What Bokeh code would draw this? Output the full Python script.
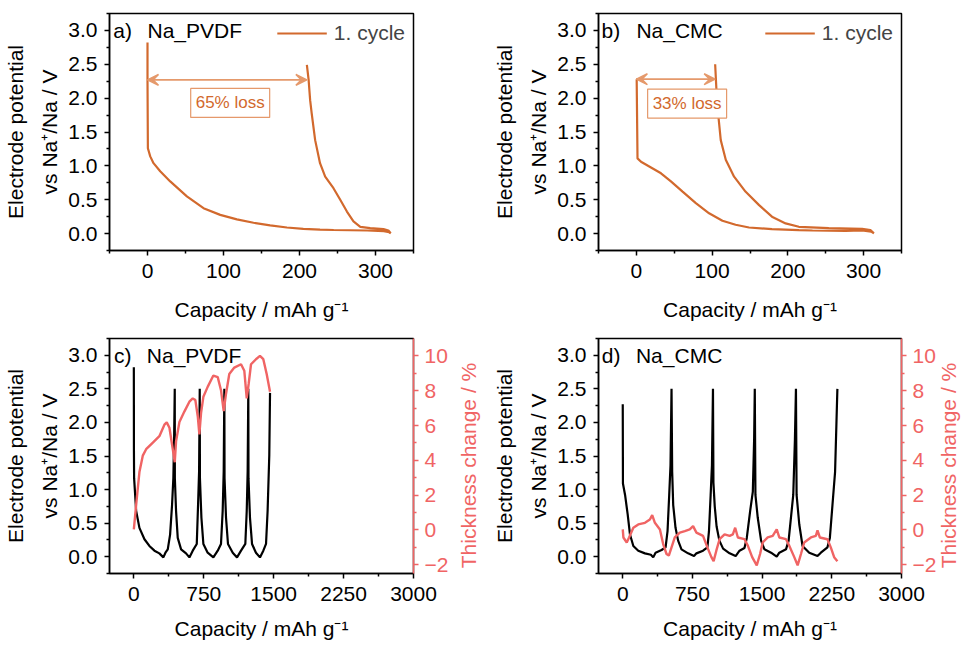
import math
from bokeh.plotting import figure
from bokeh.layouts import gridplot
from bokeh.models import (Range1d, LinearAxis, FixedTicker, Label, Arrow, VeeHead,
                          Legend, LegendItem, PrintfTickFormatter)
from bokeh.embed import file_html
from bokeh.resources import INLINE

# ---------------- data ----------------
# a) Na_PVDF, 1st cycle
pvdf_c1_cap = [0, 0, 0.5, 3.6, 7.9, 16.7, 29.9, 51.8, 73.7, 95.7, 117.6, 139.5, 161.4, 183.4, 205, 227, 245, 289, 311, 318, 320,
               317, 310.5, 293, 280, 271, 262.4, 253.6, 244.7, 233.8, 227, 220.6, 216, 214, 212, 209.7]
pvdf_c1_volt = [2.82, 2.27, 1.26, 1.14, 1.04, 0.92, 0.77, 0.55, 0.375, 0.276, 0.21, 0.16, 0.12, 0.09, 0.07, 0.058, 0.053, 0.045, 0.035, 0.02, 0.005,
                0.045, 0.065, 0.08, 0.10, 0.18, 0.325, 0.50, 0.67, 0.84, 1.04, 1.38, 1.78, 1.97, 2.27, 2.49]

# b) Na_CMC, 1st cycle
cmc_c1_cap = [0, 0.4, 1.5, 6.1, 17, 32.5, 45.6, 61, 78.5, 96, 113.6, 131, 148.7, 179, 214.5, 232.5, 276, 298, 310, 313.6,
              309, 298, 254, 214.5, 197, 179, 162, 144, 129, 118, 111.4, 108.3, 105.7, 104]
cmc_c1_volt = [2.28, 2.28, 1.11, 1.06, 0.99, 0.89, 0.77, 0.62, 0.45, 0.30, 0.19, 0.13, 0.09, 0.065, 0.05, 0.045, 0.04, 0.045, 0.03, 0.005,
               0.05, 0.07, 0.08, 0.10, 0.15, 0.25, 0.42, 0.62, 0.84, 1.09, 1.38, 1.73, 2.12, 2.5]

loss_labels = ["65% loss", "33% loss"]
loss_arrow_volt = [2.27, 2.28]
loss_label_pos = [(108.8, 1.93), (67, 1.92)]

# c) Na_PVDF, cycling
pvdf_cap = [0, 1, 3, 25, 60, 114, 167, 221, 274, 317,
            339, 364, 389, 410, 424, 432, 439,
            440, 453, 471, 507, 560, 596,
            632, 675, 689, 700, 707,
            709, 725, 746, 792, 853,
            900, 935, 953, 964, 971,
            973, 989, 1010, 1061, 1107,
            1150, 1196, 1211, 1221, 1228,
            1230, 1246, 1268, 1310, 1353,
            1389, 1418, 1435, 1453, 1461]
pvdf_volt = [2.82, 1.6, 1.17, 0.68, 0.43, 0.26, 0.16, 0.09, 0.05, -0.01,
             0.06, 0.11, 0.33, 0.77, 1.17, 1.75, 2.5,
             1.17, 0.68, 0.28, 0.11, 0.05, -0.01,
             0.09, 0.19, 0.77, 1.27, 2.5,
             1.17, 0.58, 0.19, 0.06, -0.01,
             0.09, 0.19, 0.68, 1.27, 2.5,
             1.17, 0.58, 0.19, 0.06, -0.01,
             0.09, 0.19, 0.68, 1.27, 2.5,
             1.17, 0.58, 0.19, 0.06, -0.01,
             0.09, 0.19, 0.68, 1.51, 2.44]
pvdf_thick_cap = [0, 25, 60, 96, 132, 204, 274, 328, 353, 382, 418, 439,
                  453, 489, 542, 596, 632, 660, 686, 703,
                  721, 746, 792, 853, 900, 935, 964,
                  989, 1024, 1078, 1150, 1185, 1211,
                  1232, 1257, 1310, 1353, 1389, 1425, 1461]
pvdf_thick = [0.03, 1.45, 3.33, 4.27, 4.64, 5.02, 5.39, 6.05, 6.18, 5.87, 4.64, 3.89,
              5.09, 6.2, 6.8, 7.37, 7.56, 7.46, 6.52, 5.49,
              6.71, 7.65, 8.22, 8.87, 8.78, 8.03, 6.83,
              7.83, 8.96, 9.33, 9.52, 9.15, 7.56,
              8.4, 9.52, 9.81, 10.0, 9.81, 8.96, 7.94]

# d) Na_CMC, cycling
cmc_cap = [0, 2, 25, 53, 78, 114, 167, 239, 303, 328,
           353, 418, 461, 482, 500, 514, 525,
           532, 543, 568, 596, 632, 703, 767,
           793, 864, 911, 928, 946, 960, 971,
           976, 990, 1010, 1040, 1080, 1150, 1215,
           1257, 1310, 1335, 1371, 1400, 1414, 1421,
           1428, 1453, 1489, 1525, 1596, 1657,
           1685, 1757, 1785, 1810, 1835, 1853, 1864,
           1871, 1900, 1935, 2007, 2096,
           2132, 2203, 2229, 2257, 2285, 2300, 2310]
cmc_volt = [2.27, 1.09, 0.92, 0.63, 0.33, 0.16, 0.09, 0.05, 0.03, -0.01,
            0.06, 0.10, 0.14, 0.38, 0.92, 1.36, 2.5,
            1.26, 0.77, 0.43, 0.24, 0.11, 0.05, 0.01,
            0.05, 0.09, 0.14, 0.38, 0.92, 1.36, 2.5,
            1.1, 0.75, 0.45, 0.24, 0.12, 0.05, 0.01,
            0.09, 0.13, 0.28, 0.68, 0.97, 1.75, 2.5,
            0.92, 0.58, 0.24, 0.11, 0.06, 0.0,
            0.06, 0.11, 0.24, 0.58, 0.92, 1.75, 2.5,
            0.92, 0.48, 0.16, 0.06, 0.01,
            0.06, 0.14, 0.28, 0.77, 1.26, 2.0, 2.5]
cmc_thick_cap = [0, 7, 43, 68, 114, 167, 239, 292, 317, 346, 400, 435, 471, 496,
                 525, 560, 614, 668, 721, 757, 793, 864, 911, 954, 978,
                 1007, 1042, 1096, 1150, 1185, 1210, 1239, 1310, 1346, 1393, 1442,
                 1478, 1506, 1560, 1614, 1657, 1685, 1757, 1792, 1846, 1882,
                 1918, 1953, 2025, 2078, 2096, 2121, 2203, 2239, 2275, 2310]
cmc_thick = [0.03, -0.43, -0.72, -0.43, 0.13, 0.32, 0.41, 0.6, 0.85, 0.41, 0.03, -0.81, -1.38, -1.47,
             -1.0, -0.43, -0.15, -0.06, 0.03, 0.22, -0.15, -0.34, -1.0, -1.56, -1.79,
             -1.19, -0.53, -0.25, -0.34, -0.25, 0.13, -0.43, -0.53, -0.9, -1.56, -2.03,
             -1.38, -0.72, -0.43, -0.34, 0.03, -0.43, -0.53, -0.9, -1.56, -2.03,
             -1.38, -0.72, -0.43, -0.34, -0.02, -0.43, -0.53, -1.0, -1.56, -1.79]

# ticks
ab_x_ticks = [0, 100, 200, 300]
ab_x_minor = [-50, 50, 150, 250, 350]
cd_x_ticks = [0, 750, 1500, 2250, 3000]
cd_x_minor = [375, 1125, 1875, 2625]
volt_ticks = [0, 0.5, 1.0, 1.5, 2.0, 2.5, 3.0]
volt_minor = [-0.25, 0.25, 0.75, 1.25, 1.75, 2.25, 2.75, 3.25]
thick_ticks = [-2, 0, 2, 4, 6, 8, 10]
thick_minor = [-1, 1, 3, 5, 7, 9]

# ---------------- styling ----------------
FONT = "Liberation Sans"
ORANGE = "#D2692D"
ORANGE_LIGHT = "#E5996B"
RED = "#F06464"
FS = "21px"
YLABEL = "Electrode potential\nvs Na\u207a/Na / V"
XLABEL = "Capacity / mAh g\u207b\u00b9"
THICK_LABEL = "Thickness change / %"


def style_axis(ax, color="black"):
    ax.axis_line_width = 1.5
    ax.axis_line_color = color
    ax.major_tick_line_color = color
    ax.minor_tick_line_color = color
    ax.major_tick_line_width = 1.5
    ax.minor_tick_line_width = 1.5
    ax.major_tick_in = 0
    ax.major_tick_out = 5
    ax.minor_tick_in = 0
    ax.minor_tick_out = 3
    ax.major_label_text_font = FONT
    ax.major_label_text_font_size = FS
    ax.major_label_text_color = color
    ax.axis_label_text_font = FONT
    ax.axis_label_text_font_size = FS
    ax.axis_label_text_font_style = "normal"
    ax.axis_label_text_color = color
    ax.major_label_standoff = 6


def make_fig(xr, xt, xm, w, h, border_left, border_right, border_top, border_bottom, xstand):
    p = figure(width=w, height=h, x_range=Range1d(*xr), y_range=Range1d(-0.25, 3.25),
               output_backend="svg", toolbar_location=None,
               min_border_left=border_left, min_border_right=border_right,
               min_border_top=border_top, min_border_bottom=border_bottom)
    p.xgrid.visible = False
    p.ygrid.visible = False
    p.outline_line_color = "black"
    p.outline_line_width = 1.5
    p.outline_line_alpha = 1.0
    p.background_fill_color = "white"
    p.border_fill_color = "white"
    p.xaxis.ticker = FixedTicker(ticks=xt, minor_ticks=xm)
    p.yaxis.ticker = FixedTicker(ticks=volt_ticks, minor_ticks=volt_minor)
    p.yaxis.formatter = PrintfTickFormatter(format="%.1f")
    p.xaxis.axis_label = XLABEL
    p.yaxis.axis_label = YLABEL
    for ax in p.xaxis + p.yaxis:
        style_axis(ax)
    p.xaxis.major_label_standoff = 8
    p.yaxis.major_label_standoff = 7
    p.yaxis.axis_label_text_line_height = 1.5
    p.xaxis.axis_label_standoff = xstand
    p.yaxis.axis_label_standoff = 4
    return p


def add_thick_axis(p, label_x):
    p.extra_y_ranges = {"thick": Range1d(-2.5, 11)}
    rax = LinearAxis(y_range_name="thick",
                     ticker=FixedTicker(ticks=thick_ticks, minor_ticks=thick_minor))
    style_axis(rax, RED)
    p.add_layout(rax, "right")
    lbl = Label(x=label_x, y=108, x_units="screen", y_units="screen", text=THICK_LABEL,
                angle=math.pi / 2, text_align="center", text_baseline="middle",
                text_font=FONT, text_font_size=FS, text_color=RED)
    p.add_layout(lbl, "right")


def panel_text(p, x_letter, x_name, letter, name):
    p.add_layout(Label(x=x_letter, y=3.0, text=letter, text_baseline="middle",
                       text_font=FONT, text_font_size=FS, text_color="black"))
    p.add_layout(Label(x=x_name, y=3.0, text=name, text_baseline="middle",
                       text_font=FONT, text_font_size=FS, text_color="black"))


def first_cycle(p, cap, volt, arrow_y, loss, pos):
    r = p.line(cap, volt, line_color=ORANGE, line_width=2.2)
    lg = Legend(items=[LegendItem(label="1. cycle", renderers=[r])], location="top_right",
                border_line_color=None, background_fill_alpha=0, glyph_width=50, glyph_height=20,
                label_text_font=FONT, label_text_font_size=FS, label_standoff=7,
                margin=8, padding=2)
    p.add_layout(lg)
    head = dict(size=11, line_color=ORANGE_LIGHT, fill_color=ORANGE_LIGHT, line_width=1.5)
    p.add_layout(Arrow(start=VeeHead(**head), end=VeeHead(**head),
                       x_start=cap[0], y_start=arrow_y, x_end=cap[-1], y_end=arrow_y,
                       line_color=ORANGE_LIGHT, line_width=1.8))
    lab = Label(x=pos[0], y=pos[1], text=loss, text_align="center", text_baseline="middle",
                text_font=FONT, text_font_size="17px", text_color=ORANGE,
                border_line_color=ORANGE_LIGHT, border_line_width=1.2,
                background_fill_color="white", padding=5)
    p.add_layout(lab)


pa = make_fig((-50, 350), ab_x_ticks, ab_x_minor, 483, 323, 108, 70, 13, 72, 17)
first_cycle(pa, pvdf_c1_cap, pvdf_c1_volt, loss_arrow_volt[0], loss_labels[0], loss_label_pos[0])
panel_text(pa, -45, 0, "a)", "Na_PVDF")

pb = make_fig((-50, 350), ab_x_ticks, ab_x_minor, 479, 323, 115, 59, 13, 72, 17)
first_cycle(pb, cmc_c1_cap, cmc_c1_volt, loss_arrow_volt[1], loss_labels[1], loss_label_pos[1])
panel_text(pb, -46, 0, "b)", "Na_CMC")

pc = make_fig((-261, 3000), cd_x_ticks, cd_x_minor, 483, 319, 108, 70, 15, 65, 13)
add_thick_axis(pc, 17)
pc.line(pvdf_cap, pvdf_volt, line_color="black", line_width=2.2)
pc.line(pvdf_thick_cap, pvdf_thick, line_color=RED, line_width=2.4, y_range_name="thick")
panel_text(pc, -214, 139, "c)", "Na_PVDF")

pd = make_fig((-261, 3000), cd_x_ticks, cd_x_minor, 479, 319, 115, 59, 15, 65, 13)
add_thick_axis(pd, 9)
pd.line(cmc_cap, cmc_volt, line_color="black", line_width=2.2)
pd.line(cmc_thick_cap, cmc_thick, line_color=RED, line_width=2.4, y_range_name="thick")
panel_text(pd, -225, 142, "d)", "Na_CMC")

grid = gridplot([[pa, pb], [pc, pd]], toolbar_location=None)

with open("out.html", "w") as f:
    f.write(file_html(grid, INLINE))
